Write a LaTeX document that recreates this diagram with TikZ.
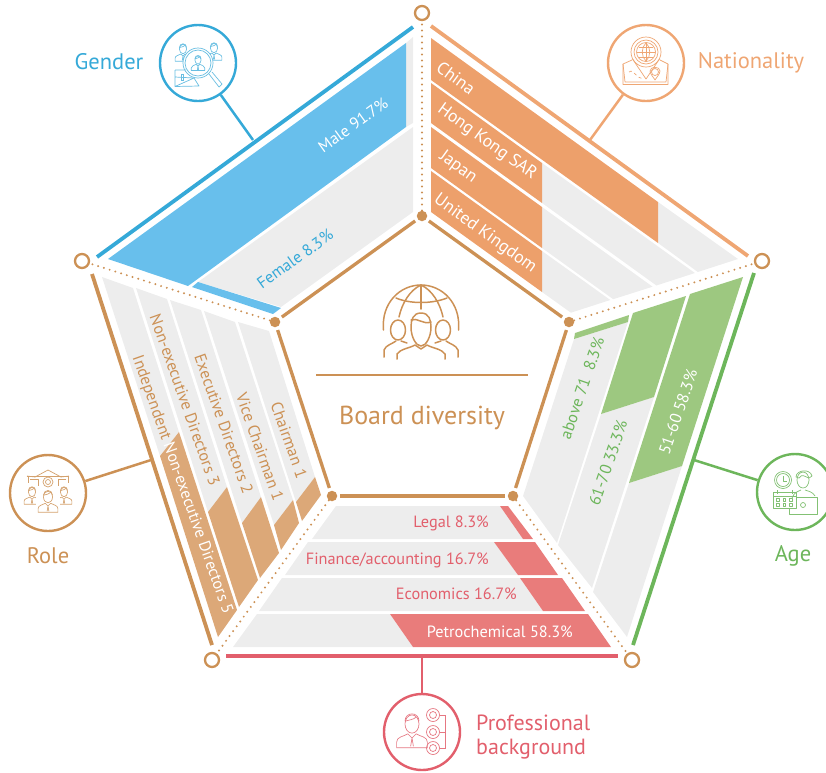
\documentclass[tikz,border=0pt]{standalone}
\usepackage{fontspec}
\setmainfont{PT Sans}
\definecolor{gr}{HTML}{EDEDED}
\definecolor{tan}{HTML}{CC9155}
\definecolor{tanf}{HTML}{DCA878}
\definecolor{blu}{HTML}{35A9D8}
\definecolor{bluf}{HTML}{68BFEC}
\definecolor{ora}{HTML}{EFA673}
\definecolor{oraf}{HTML}{EDA06B}
\definecolor{grn}{HTML}{6DB65B}
\definecolor{grnf}{HTML}{9DC880}
\definecolor{red1}{HTML}{E25F6C}
\definecolor{redf}{HTML}{E97C7B}
\newcommand{\fs}[1]{\fontsize{#1}{#1}\selectfont}
\newcommand{\minip}[4]{% x,y,scale,colour
 \begin{scope}[shift={(#1,#2)},scale=#3,draw=#4,line width=.65pt,line join=round]
  \draw (0,0) ellipse [x radius=5pt,y radius=6.5pt];
  \draw (-5,-2) .. controls (-5,-9) and (5,-9) .. (5,-2);
  \draw (-5,-2) .. controls (-2,-3) and (1,-3) .. (3,-5);
  \draw (-11,17) -- (-11,13) .. controls (-11,9) and (-6,9) .. (-3,7) -- (0,10) -- (3,7) .. controls (6,9) and (11,9) .. (11,13) -- (11,17) -- cycle;
  \draw (0,10) -- (-1,16) (0,10) -- (1,16);
 \end{scope}}
\tikzset{
 hub/.style={circle,fill=tan,inner sep=0pt,minimum size=10.5pt},
 rim/.style={circle,draw=tan,fill=white,line width=2.3pt,inner sep=0pt,minimum size=14pt},
 spoke/.style={draw=tan,line width=2.2pt,line cap=round,dash pattern=on 0pt off 6pt},
 inner/.style={draw=tan,line width=3.3pt,shorten >=3pt,shorten <=3pt},
 badge/.style={circle,draw=#1,fill=white,line width=2.4pt,inner sep=0pt,minimum size=76pt},
 lead/.style={draw=#1,line width=2.5pt},
 edge/.style={draw=#1,line width=3.8pt},
 title/.style={text=#1,font=\fs{22.5},inner sep=0pt},
 lab/.style={font=\fs{16.3},inner sep=0pt},
 labn/.style={font=\fs{17.5},inner sep=0pt,text=white,rotate=-35.8},
}
\begin{document}
\begin{tikzpicture}[x=1pt,y=-1pt]
\useasboundingbox (0,0) rectangle (826,772);
% vertices
\node[rim] (ot) at (422,13) {};
\node[rim] (ol) at (82,261) {};
\node[rim] (or) at (762,261) {};
\node[rim] (obl) at (212,660) {};
\node[rim] (obr) at (632,660) {};
\node[hub] (it) at (422,216) {};
\node[hub] (il) at (275,322) {};
\node[hub] (ir) at (569,322) {};
\node[hub] (ibl) at (332,496) {};
\node[hub] (ibr) at (513,496) {};
% gender cells
\fill[gr] (406,43) -- (413,37) -- (413,123) -- (406,127) -- cycle;
\fill[gr] (413,127) -- (413,212) -- (281,307) -- (198,282) -- cycle;
\fill[bluf] (406,43) -- (406,127) -- (188,286) -- (108,259) -- cycle;
\fill[bluf] (198,282) -- (281,308) -- (273,314) -- (192,287) -- cycle;
% nationality cells
\fill[gr] (658,202) -- (738,259) -- (697.8,272) -- (658,243) -- cycle;
\fill[gr] (542,163) -- (694.9,273) -- (656.4,285.5) -- (542,203) -- cycle;
\fill[gr] (542,207) -- (652.6,286.7) -- (613.2,299.2) -- (542,248) -- cycle;
\fill[gr] (542,251) -- (610.3,300) -- (570.9,312.7) -- (542,292) -- cycle;
\fill[oraf] (431,38) -- (658,202) -- (658,243) -- (431,80) -- cycle;
\fill[oraf] (431,83) -- (542,163) -- (542,203) -- (431,123) -- cycle;
\fill[oraf] (431,127) -- (542,207) -- (542,248) -- (431,168) -- cycle;
\fill[oraf] (431,171) -- (542,251) -- (542,292) -- (431,212) -- cycle;
% age cells
\fill[gr] (574,339) -- (628,322) -- (557,543) -- (523,496) -- cycle;
\fill[gr] (654,397) -- (601,414) -- (558,545) -- (592,588) -- cycle;
\fill[gr] (682,466) -- (629,483) -- (593,592) -- (627,637) -- cycle;
\fill[grnf] (743,277) -- (690,294) -- (629,483) -- (682,466) -- cycle;
\fill[grnf] (686,296) -- (633,313) -- (601,414) -- (654,397) -- cycle;
\fill[grnf] (629,315) -- (575,333) -- (574,339) -- (628,322) -- cycle;
% professional cells
\fill[gr] (336,506) -- (500,506) -- (523,539) -- (312,539) -- cycle;
\fill[gr] (308,542) -- (494,542) -- (518,575) -- (285,575) -- cycle;
\fill[gr] (282,578) -- (520,578) -- (543,611) -- (259,611) -- cycle;
\fill[gr] (257,614) -- (390,614) -- (413,647) -- (233,647) -- cycle;
\fill[redf] (500,506) -- (508,506) -- (533,539) -- (523,539) -- cycle;
\fill[redf] (494,542) -- (535,542) -- (558,575) -- (518,575) -- cycle;
\fill[redf] (520,578) -- (562,578) -- (585,611) -- (543,611) -- cycle;
\fill[redf] (390,614) -- (588,614) -- (611,647) -- (413,647) -- cycle;
% role cells
\fill[gr] (102,277) -- (133,288) -- (179,432) -- (160,456) -- cycle;
\fill[gr] (136,288) -- (167,299) -- (227,487) -- (208,512) -- cycle;
\fill[gr] (170,300) -- (201,310) -- (261,497) -- (242,523) -- cycle;
\fill[gr] (204,311) -- (235,322) -- (293,500) -- (274,525) -- cycle;
\fill[gr] (238,322) -- (269,331) -- (315,477) -- (296,502) -- cycle;
\fill[tanf] (179,432) -- (160,456) -- (218,637) -- (237,610) -- cycle;
\fill[tanf] (227,487) -- (208,512) -- (239,607) -- (258,580) -- cycle;
\fill[tanf] (261,497) -- (242,523) -- (260,578) -- (279,553) -- cycle;
\fill[tanf] (293,500) -- (274,525) -- (281,550) -- (299,523) -- cycle;
\fill[tanf] (315,477) -- (296,502) -- (302,521) -- (321,495) -- cycle;
% spokes and inner pentagon
\foreach \a/\b in {it/ot,il/ol,ir/or,ibl/obl,ibr/obr} \draw[spoke] (\a) -- (\b);
\foreach \a/\b in {il/it,it/ir,ir/ibr,ibr/ibl,ibl/il} \draw[inner] (\a) -- (\b);
% outer edges
\coordinate (ga) at (97,257); \coordinate (gb) at (413,27);
\coordinate (na) at (431,26); \coordinate (nb) at (748,256);
\coordinate (aa) at (754,273); \coordinate (ab) at (633,645);
\coordinate (pa) at (226,656); \coordinate (pb) at (618,656);
\coordinate (ra) at (92,274); \coordinate (rb) at (212,645);
\draw[edge=blu] (ga) -- (gb);
\draw[edge=ora] (na) -- (nb);
\draw[edge=grn] (aa) -- (ab);
\draw[edge=red1] (pa) -- (pb);
\draw[edge=tan] (ra) -- (rb);
% badges and leaders
\node[badge=blu] (bg) at (198,63) {};
\node[badge=ora] (bn) at (646,63) {};
\node[badge=grn] (ba) at (795,492) {};
\node[badge=red1] (bp) at (422,732) {};
\node[badge=tan] (br) at (48,493) {};
\coordinate (lg) at (253,140);
\coordinate (ln) at (590,140);
\coordinate (la) at (694,460);
\coordinate (lp) at (422,658);
\coordinate (lr) at (151,460);
\draw[lead=blu] (bg) -- (lg);
\draw[lead=ora] (bn) -- (ln);
\draw[lead=grn] (ba) -- (la);
\draw[lead=red1] (bp) -- (lp);
\draw[lead=tan] (br) -- (lr);
% titles
\node[title=blu] (tg) at (109,62) {Gender};
\node[title=ora] (tn) at (751,63) {Nationality};
\node[title=grn] (ta) at (793,556) {Age};
\node[title=tan] (tr) at (48,556) {Role};
\node[title=red1,align=left,anchor=west,font=\fontsize{22}{24.5}\selectfont] (tp) at (476,737) {Professional\\background};
% centre
\coordinate (ca) at (316,375); \coordinate (cb) at (528,375);
\draw[draw=tan,line width=1.1pt] (ca) -- (cb);
\node[text=tan,font=\fs{26},inner sep=0pt] (bd) at (422,418) {Board diversity};
% centre icon
\begin{scope}[draw=tan,line width=1.5pt,line cap=round,line join=round]
 \draw (383.5,330) .. controls (381,303) and (400,285) .. (421,285) .. controls (442,285) and (461,303) .. (458.5,330);
 \draw (396,298) .. controls (410,304) and (432,304) .. (447,298);
 \draw (421,285) -- (421,309);
 \draw (421,285) .. controls (410,290) and (402,303) .. (399,317);
 \draw (421,285) .. controls (432,290) and (440,303) .. (443,317);
 \draw (421,313) .. controls (413,313) and (411,320) .. (411,327) .. controls (411,337) and (416,346) .. (421,346) .. controls (426,346) and (431,337) .. (431,327) .. controls (431,320) and (429,313) .. (421,313);
 \draw (411,320) .. controls (417,317) and (423,325) .. (431,322);
 \draw (397,359) -- (397,354) .. controls (400,349) and (410,348) .. (415,345) -- (421,349) -- (427,345) .. controls (432,348) and (442,349) .. (445,354) -- (445,359);
 \draw (398,330) ellipse [x radius=7.5pt,y radius=10pt];
 \draw (443,330) ellipse [x radius=7.5pt,y radius=10pt];
 \draw (384,357) -- (384,350) .. controls (386,345) and (392,344) .. (396,341);
 \draw (401,341) -- (407,343);
 \draw (458,357) -- (458,350) .. controls (456,345) and (450,344) .. (446,341);
 \draw (441,341) -- (435,343);
\end{scope}
% gender icon
\minip{183}{49}{.72}{blu!75}
\minip{214}{48}{.72}{blu!75}
\fill[white] (198,63) circle [radius=15pt];
\draw[blu!75,line width=.7pt] (198,63) circle [radius=15pt];
\draw[blu!75,line width=.7pt] (198,63) circle [radius=13pt];
\minip{198}{60}{.62}{blu!75}
\draw[blu!75,line width=.7pt,line join=round] (209,74) -- (219,87) -- (222,84) -- (212,72);
\draw[blu!75,fill=white,line width=.7pt,line join=round] (175,70) -- (186,70) (194,78) -- (199,86) -- (175,86.5) -- cycle (175,70) -- (175,86.5) (175,77) -- (194,78);
\draw[blu!75,line width=.7pt] (181,74) rectangle (183,80);
% nationality icon
\begin{scope}[draw=ora,line width=.7pt,line join=round]
 \draw (646,52) circle [radius=9.5pt] (646,52) circle [radius=12pt];
 \draw (646,52) circle [radius=15pt];
 \draw (646,43) -- (646,61) (637,52) -- (655,52) (639,47) -- (653,47) (639,57) -- (653,57);
 \draw (646,43) .. controls (641,47) and (641,57) .. (646,61) (646,43) .. controls (651,47) and (651,57) .. (646,61);
 \draw (632.5,59) -- (646,79) -- (659.5,59);
 \draw (632,60) -- (623,64) -- (623,84.5) -- (668,84.5) -- (668,64) -- (660,60);
 \draw (623,64) -- (625,82) -- (666,82) -- (668,64);
 \draw (655,72) circle [radius=3.5pt];
 \draw (650,71) .. controls (650,66) and (660,66) .. (660,71) .. controls (660,74) and (656,78) .. (655,80) .. controls (654,78) and (650,74) .. (650,71);
 \draw[dashed] (629,72) .. controls (634,68) and (636,80) .. (644,78);
\end{scope}
% age icon
\begin{scope}[draw=grn!85,line width=.7pt,line join=round]
 \draw (783,480) circle [radius=6.5pt] (783,480) circle [radius=8.5pt];
 \draw (783,476) -- (783,481) -- (787,481);
 \draw (773,492) rectangle (796,508);
 \draw (773,496) -- (796,496);
 \foreach \i in {778,784.5,791} \foreach \j in {500,505} \draw (\i-1.3,\j-1.3) rectangle (\i+1.3,\j+1.3);
 \draw (777,490) -- (777,494) (792,490) -- (792,494);
 \draw (803,480) ellipse [x radius=6pt,y radius=8pt];
 \draw (796,477) .. controls (796,470) and (810,468) .. (812,476) -- (809,478) .. controls (805,477) and (802,473) .. (799,478) -- cycle;
 \draw (792,498) .. controls (794,492) and (799,491) .. (801,490) (805,490) .. controls (808,491) and (813,492) .. (815,496);
 \draw (796,497) -- (817,497) -- (817,514) -- (789,514) -- (789,508);
 \draw (803,505) circle [radius=2.5pt];
\end{scope}
% role icon
\begin{scope}[draw=tan!85,line width=.7pt,line join=round]
 \draw (27,476) -- (35,477) (69,476) -- (61,477) (48,470) -- (35,477) (48,470) -- (61,477);
 \draw (27,476) -- (69,476) (28,476) -- (28,483) (68,476) -- (68,483);
 \draw (30,479) -- (38,479) -- (38,486) (66,479) -- (58,479) -- (58,486);
 \draw (48,482) circle [radius=5pt] (48,482) circle [radius=2.5pt];
\end{scope}
\minip{32}{492}{.72}{tan!85}
\minip{64}{492}{.72}{tan!85}
\begin{scope}
 \fill[white] (36,497) rectangle (60,516);
\end{scope}
\minip{48}{497}{.9}{tan!85}
% professional icon
\minip{412}{724}{1.4}{red1!85}
\begin{scope}[draw=red1!85,line width=.7pt]
 \foreach \yy in {715,732,748} {\draw (433,\yy) circle [radius=6.5pt]; \draw (433,\yy) circle [radius=3.5pt];}
 \draw (440,715) -- (445,715) -- (445,748) -- (440,748) (440,732) -- (445,732);
\end{scope}
% gender labels
\node[lab,text=white,rotate=35.8] (lm) at (353,125) {Male 91.7\%};
\node[lab,text=blu,rotate=35.8] (lf) at (295,259) {Female 8.3\%};
% nationality labels
\node[labn] (l1) at (456,78) {China};
\node[labn] (l2) at (487,142) {Hong Kong SAR};
\node[labn] (l3) at (458,167) {Japan};
\node[labn] (l4) at (485,234) {United Kingdom};
% age labels
\node[lab,text=grn,rotate=71] (l5) at (582,388) {above 71\ \ 8.3\%};
\node[lab,text=grn,rotate=71] (l6) at (608,463) {61-70 33.3\%};
\node[lab,text=white,rotate=71] (l7) at (678,412) {51-60 58.3\%};
% professional labels
\node[lab,text=red1,anchor=east] (l8) at (489,523) {Legal 8.3\%};
\node[lab,text=red1,anchor=east] (l9) at (489,560) {Finance/accounting 16.7\%};
\node[lab,text=red1,anchor=east] (l10) at (517,594) {Economics 16.7\%};
\node[lab,text=white,anchor=east] (l11) at (573,632) {Petrochemical 58.3\%};
% role labels
\node[lab,rotate=-70.5] (l12) at (182,485) {\textcolor{tan}{Independent }\textcolor{white}{Non-executive Directors 5}};
\node[lab,text=tan,rotate=-70.5] (l13) at (185,400) {Non-executive Directors 3};
\node[lab,text=tan,rotate=-70.5] (l14) at (224,424) {Executive Directors 2};
\node[lab,text=tan,rotate=-70.5] (l15) at (260,447) {Vice Chairman 1};
\node[lab,text=tan,rotate=-70.5] (l16) at (289,440) {Chairman 1};
\end{tikzpicture}
\end{document}
